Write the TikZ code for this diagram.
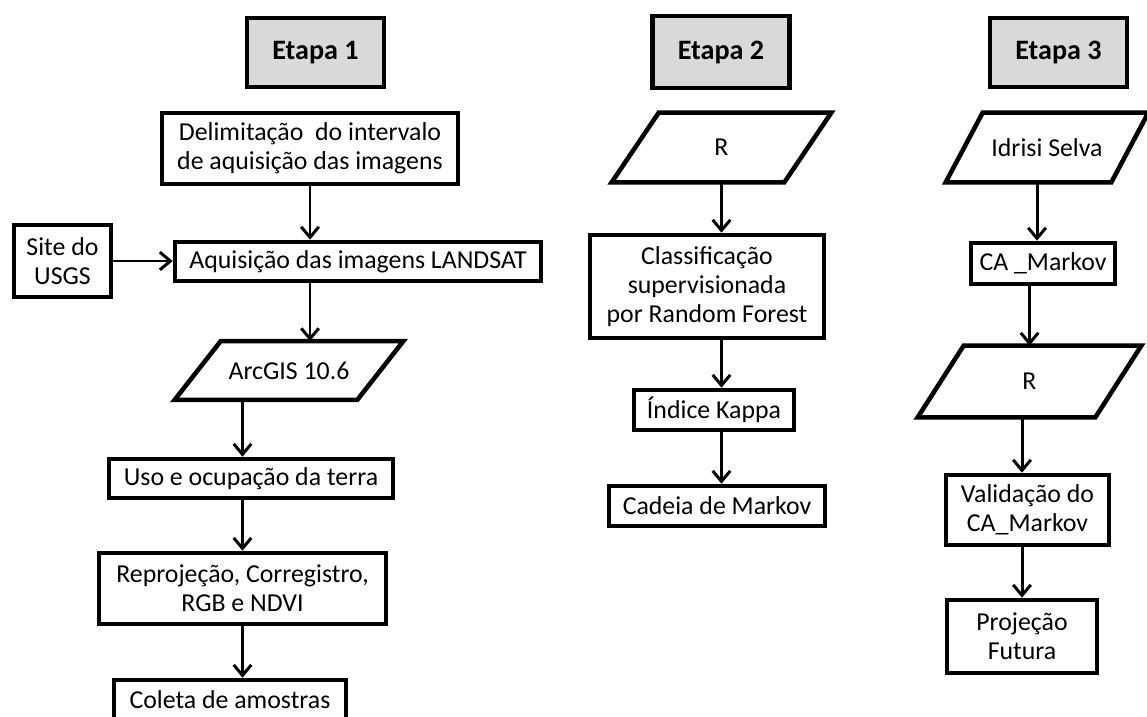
\documentclass[tikz,border=0pt]{standalone}
\usepackage{fontspec}
\setmainfont{Carlito}
\usetikzlibrary{
    arrows.meta,
    positioning,
    calc
}
\definecolor{stageGray}{RGB}{217,217,217}
\tikzset{
  stage/.style  = {draw, line width=2.6pt, fill=stageGray,
                   font=\fontsize{16}{18}\selectfont\bfseries,
                   minimum width=2.74cm, minimum height=1.38cm},
  block/.style  = {draw, line width=2.6pt, align=center, inner sep=0pt},
  io/.style     = {inner sep=0pt, align=center},
  ioline/.style = {line width=2.6pt, line join=miter},
  arr/.style    = {-{Straight Barb[length=6pt,width=10pt]}, line width=1.7pt}
}
% parallelogram drawn on the box of a named node: name, slant
\newcommand{\ioshape}[2]{%
  \draw[ioline] (#1.south west) -- ($(#1.north west)+(#2,0)$)
    -- (#1.north east) -- ($(#1.south east)+(-#2,0)$) -- cycle;}

\begin{document}
\begin{tikzpicture}[x=0.02cm, y=-0.02cm,
    every node/.style={font=\fontsize{14.7}{16.5}\selectfont}]
\useasboundingbox (0,0) rectangle (1147,717);
% Etapa 1
\node[stage] (st1) at (315.5,52.5) {Etapa 1};
\node[block, minimum width=5.92cm, minimum height=1.42cm] (del) at (310,148.5)
    {Delimitação~ do intervalo\\de aquisição das imagens};
\node[block, minimum width=1.94cm, minimum height=1.44cm] (usgs) at (62.5,261)
    {Site do\\USGS};
\node[block, minimum width=7.32cm, minimum height=0.78cm] (aq) at (358,261.5)
    {Aquisição das imagens LANDSAT};
\node[io, minimum width=4.56cm, minimum height=1.16cm] (arc) at (289,370.5) {ArcGIS 10.6};
\ioshape{arc}{46}
\node[block, minimum width=5.68cm, minimum height=0.78cm] (uso) at (251,478.5)
    {Uso e ocupação da terra};
\node[block, minimum width=5.74cm, minimum height=1.42cm] (rep) at (242.5,588.5)
    {Reprojeção, Corregistro,\\RGB e NDVI};
\node[block, minimum width=4.64cm, minimum height=0.8cm] (col) at (230,700)
    {Coleta de amostras};
\draw[arr] (del.south) -- (del.south |- aq.north);
\draw[arr] (usgs.east) -- (usgs.east -| aq.west);
\draw[arr] (aq.south -| del.south) -- (arc.north -| del.south);
\draw[arr] (arc.south -| rep.north) -- (uso.north -| rep.north);
\draw[arr] (uso.south -| rep.north) -- (rep.north);
\draw[arr] (rep.south) -- (rep.south |- col.north);
% Etapa 2
\node[stage, minimum height=1.44cm] (st2) at (721,52) {Etapa 2};
\node[io, minimum width=4.38cm, minimum height=1.38cm] (r2) at (721.5,147.5) {R};
\ioshape{r2}{47}
\node[block, minimum width=4.68cm, minimum height=2.06cm] (cls) at (707,286.5)
    {Classificação\\supervisionada\\por Random Forest};
\node[block, minimum width=3.2cm, minimum height=0.8cm] (kap) at (714,410)
    {Índice Kappa};
\node[block, minimum width=4.32cm, minimum height=0.8cm] (cad) at (717,506)
    {Cadeia de Markov};
\draw[arr] (r2.south) -- (r2.south |- cls.north);
\draw[arr] (cls.south -| r2.south) -- (kap.north -| r2.south);
\draw[arr] (kap.south -| r2.south) -- (cad.north -| r2.south);
% Etapa 3
\node[stage] (st3) at (1058.5,52.5) {Etapa 3};
\node[io, minimum width=4.04cm, minimum height=1.38cm] (idr) at (1047,147.5) {Idrisi Selva};
\ioshape{idr}{37}
\node[block, minimum width=2.88cm, minimum height=0.82cm] (ca) at (1043,263.5)
    {CA \_Markov};
\node[io, minimum width=4.46cm, minimum height=1.42cm] (r3) at (1029.5,381.5) {R};
\ioshape{r3}{46}
\node[block, minimum width=3.26cm, minimum height=1.4cm] (val) at (1027.5,510)
    {Validação do\\CA\_Markov};
\node[block, minimum width=3.0cm, minimum height=1.46cm] (proj) at (1022,636.5)
    {Projeção\\Futura};
\draw[arr] ($(idr.south)+(-10,0)$) -- ($(ca.north)+(-6,0)$);
\draw[arr] (ca.south -| r3.north) -- (r3.north);
\draw[arr] (r3.south -| proj.north) -- (val.north -| proj.north);
\draw[arr] (val.south -| proj.north) -- (proj.north);
\end{tikzpicture}
\end{document}
